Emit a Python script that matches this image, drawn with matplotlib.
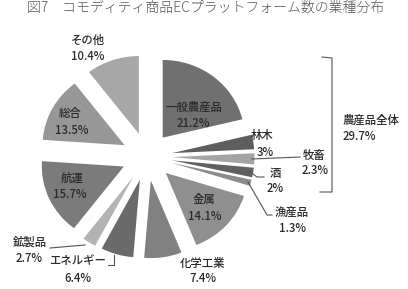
import matplotlib
matplotlib.use("Agg")
import matplotlib.pyplot as plt
from matplotlib.lines import Line2D

plt.rcParams['font.family'] = ['Noto Sans CJK JP', 'DejaVu Sans']

# data: clockwise from 12 o'clock
labels = ['一般農産品', '林木', '牧畜', '酒', '漁産品', '金属', '化学工業',
          'エネルギー', '鉱製品', '航運', '総合', 'その他']
shares = [21.2, 3, 2.3, 2, 1.3, 14.1, 7.4, 6.4, 2.7, 15.7, 13.5, 10.4]
pct_text = ['21.2%', '3%', '2.3%', '2%', '1.3%', '14.1%', '7.4%',
            '6.4%', '2.7%', '15.7%', '13.5%', '10.4%']
group_label = '農産品全体'
group_pct = '29.7%'
title = '図7　コモディティ商品ECプラットフォーム数の業種分布'

colors = ['#707070', '#5e5e5e', '#a4a4a4', '#606060', '#8c8c8c', '#8f8f8f',
          '#818181', '#6a6a6a', '#b3b3b3', '#7b7b7b', '#979797', '#a7a7a7']

W, H = 408, 289
fig = plt.figure(figsize=(W / 100, H / 100), dpi=100)
ax = fig.add_axes([0, 0, 1, 1])

ax.pie(shares, colors=colors, startangle=90, counterclock=False,
       explode=[0.31] * len(shares), wedgeprops=dict(linewidth=0))

# pie centre at (147, 156.6) px, radius 82 px horizontally, a bit squashed vertically
cx, cy, rx, ry = 147, 156.6, 82, 77.7
ax.set_aspect('auto')
ax.set_xlim(-cx / rx, (W - cx) / rx)
ax.set_ylim((cy - H) / ry, cy / ry)
ax.axis('off')


def px(x, y):
    return x / W, 1 - y / H


txt = dict(fontsize=8.2, color='#2a2a2a', ha='center', va='center', fontweight='medium')

# label positions in pixels (name, pct)
pos = {
    '一般農産品': ((194, 107), (193, 123)),
    '林木': ((262, 136), (265, 152)),
    '牧畜': ((314, 155), (315, 171)),
    '酒': ((275, 173), (275, 189)),
    '漁産品': ((292, 212), (292, 228)),
    '金属': ((204, 200), (205, 216)),
    '化学工業': ((203, 263), (203, 279)),
    'エネルギー': ((78, 261), (78, 278)),
    '鉱製品': ((30, 242), (29, 258)),
    '航運': ((72, 178), (70, 194)),
    '総合': ((70, 114), (72, 130)),
    'その他': ((88, 40), (88, 56)),
}
for lab, pc in zip(labels, pct_text):
    (x1, y1), (x2, y2) = pos[lab]
    fig.text(*px(x1, y1), lab, **txt)
    fig.text(*px(x2, y2), pc, **txt)

gtxt = dict(txt, ha='left')
fig.text(*px(343, 120), group_label, **gtxt)
fig.text(*px(343, 136), group_pct, **gtxt)

fig.text(*px(206, 1), title, fontsize=10, color='#555555', ha='center',
         va='top', fontweight='light')

# leader lines and bracket
leaders = [
    [(252, 159), (300, 157)],
    [(249, 171), (257, 177), (264, 177)],
    [(248, 182), (267, 215), (272, 215)],
    [(50, 248), (85, 245)],
    [(108, 265), (114, 265), (114, 255)],
    [(322, 57), (332, 58), (332, 192), (320, 192)],
]
for pts in leaders:
    xs = [p[0] / W for p in pts]
    ys = [1 - p[1] / H for p in pts]
    fig.add_artist(Line2D(xs, ys, color='#555555', lw=0.8,
                          transform=fig.transFigure))

fig.savefig('out.png', dpi=100)
